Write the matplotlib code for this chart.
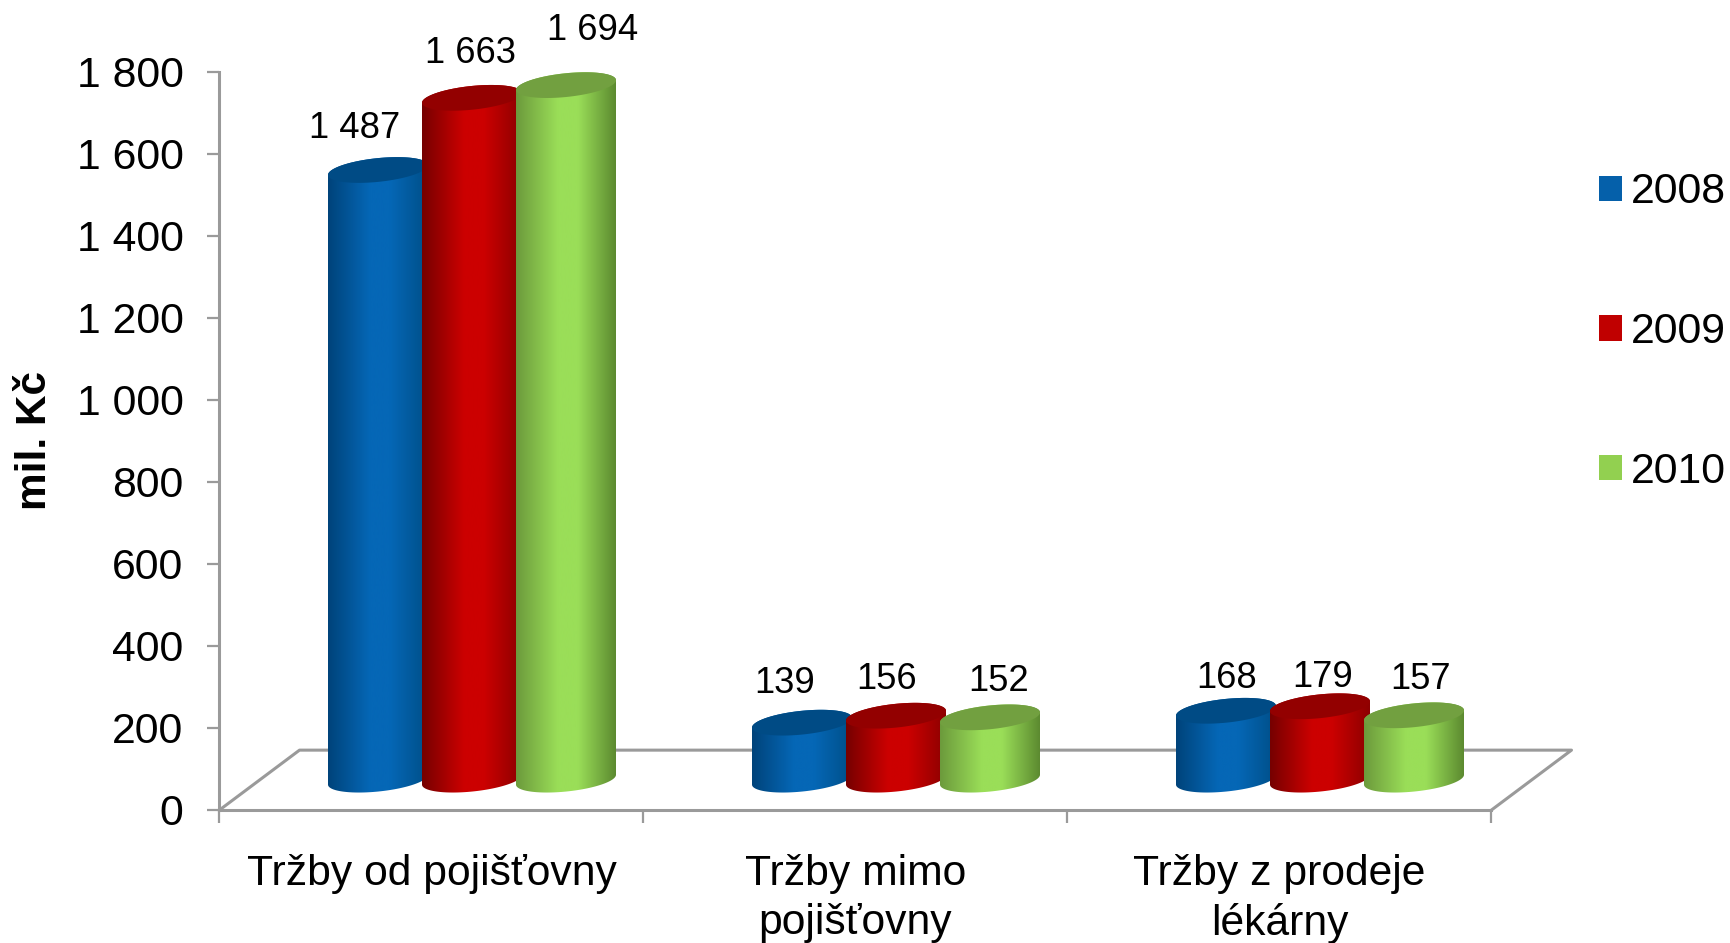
import numpy as np
import matplotlib
matplotlib.use("Agg")
from matplotlib import pyplot as plt
from matplotlib.colors import LinearSegmentedColormap
from matplotlib.patches import Patch, Polygon
from matplotlib.transforms import ScaledTranslation

plt.rcParams['font.family'] = ['Liberation Sans', 'DejaVu Sans']

# data
categories = ["Tržby od pojišťovny", "Tržby mimo\npojišťovny", "Tržby z prodeje\nlékárny"]
years = ["2008", "2009", "2010"]
trzby_2008 = [1487, 139, 168]
trzby_2009 = [1663, 156, 179]
trzby_2010 = [1694, 152, 157]
labels_2008 = ["1 487", "139", "168"]
labels_2009 = ["1 663", "156", "179"]
labels_2010 = ["1 694", "152", "157"]
y_ticks = [0, 200, 400, 600, 800, 1000, 1200, 1400, 1600, 1800]
y_tick_labels = ["0", "200", "400", "600", "800", "1 000", "1 200", "1 400", "1 600", "1 800"]

# colours: left edge, middle, right edge, top of the cylinder, legend
style_2008 = ["#00437a", "#0567b6", "#004f88", "#004b85", "#0560aa"]
style_2009 = ["#760000", "#cc0000", "#8c0000", "#930000", "#c00000"]
style_2010 = ["#6c9a3c", "#9ade58", "#5c8a30", "#72a040", "#92d050"]
AXIS_COLOR = "#9a9a9a"

# label shifts from the top of each bar, in pixels
shift_2008 = [(-23, 41), (-17, 39), (1, 32)]
shift_2009 = [(-1, 44), (-9, 36), (3, 29)]
shift_2010 = [(27, 55), (9, 36), (7, 36)]

W, H = 1731, 943
fig = plt.figure(figsize=(W / 100, H / 100), dpi=100)
ax = fig.add_axes([219.5 / W, 1 - 810 / H, 1272 / W, 738 / H])

# 1 category = 424 px, 1 mil. Kč = 0.41 px
PITCH = 94 / 424
HALF_W = 50 / 424
SHIFT_X = 40.5 / 424
BASE_Y = 74
ELL_B = 29
ELL_K = 12
DEPTH_X = 80 / 424
DEPTH_Y = 146


def cylinder(x, value, colors):
  t_low = np.linspace(np.pi, 2 * np.pi, 80)
  t_up = np.linspace(0, np.pi, 80)
  top = BASE_Y + value
  xs = np.r_[x + HALF_W * np.cos(t_low), x + HALF_W * np.cos(t_up)]
  ys = np.r_[BASE_Y + ELL_B * np.sin(t_low) + ELL_K * np.cos(t_low),
             top + ELL_B * np.sin(t_up) + ELL_K * np.cos(t_up)]
  body = Polygon(np.c_[xs, ys], closed=True, facecolor="none", edgecolor="none", zorder=3)
  ax.add_patch(body)

  cmap = LinearSegmentedColormap.from_list("c", [(0, colors[0]), (0.42, colors[1]), (0.62, colors[1]), (1, colors[2])])
  im = ax.imshow(np.linspace(0, 1, 256).reshape(1, -1), cmap=cmap, aspect="auto",
                 extent=[x - HALF_W, x + HALF_W, BASE_Y - 60, top + 60], zorder=3)
  im.set_clip_path(body)

  t = np.linspace(0, 2 * np.pi, 160)
  ax.add_patch(Polygon(np.c_[x + HALF_W * np.cos(t), top + ELL_B * np.sin(t) + ELL_K * np.cos(t)],
                       closed=True, facecolor=colors[3], edgecolor="none", zorder=3))


# floor of the 3D chart
ax.plot([0, DEPTH_X, 3 + DEPTH_X, 3], [0, DEPTH_Y, DEPTH_Y, 0], color=AXIS_COLOR, lw=2.2, clip_on=False, zorder=1)

series = [(trzby_2008, labels_2008, shift_2008, style_2008),
          (trzby_2009, labels_2009, shift_2009, style_2009),
          (trzby_2010, labels_2010, shift_2010, style_2010)]

for i in range(3):
  center = i + 0.5 + SHIFT_X
  for j, (values, texts, shifts, colors) in enumerate(series):
    x = center + (j - 1) * PITCH
    cylinder(x, values[i], colors)
    ax.annotate(texts[i], (x, BASE_Y + values[i]), xytext=shifts[i], textcoords="offset pixels",
                ha="center", va="center", fontsize=26.2, color="black", zorder=4)

ax.set_xlim(0, 3)
ax.set_ylim(0, 1800)

# axes
for side in ["top", "right"]:
  ax.spines[side].set_visible(False)
for side in ["left", "bottom"]:
  ax.spines[side].set_color(AXIS_COLOR)
  ax.spines[side].set_linewidth(2.2)

ax.set_yticks(y_ticks)
ax.set_yticklabels(y_tick_labels)
ax.tick_params(axis="y", length=9, width=1.6, color=AXIS_COLOR, pad=17, labelsize=30.8)
for lab in ax.get_yticklabels():
  lab.set_transform(lab.get_transform() + ScaledTranslation(0, 0.6 / 72, fig.dpi_scale_trans))
ax.set_xticks([0, 1, 2, 3])
ax.set_xticklabels([])
ax.set_xticks([0.5, 1.5, 2.5], minor=True)
ax.set_xticklabels(categories, minor=True, fontsize=30.7, linespacing=1.26)
ax.tick_params(axis="x", which="major", length=9, width=1.6, color=AXIS_COLOR)
ax.tick_params(axis="x", which="minor", length=0, pad=32)

fig.text(35 / W, 1 - 441 / H, "mil. Kč", rotation=90, fontsize=30.5, fontweight="bold", ha="center", va="center")

# legend
handles = [Patch(facecolor=s[4], label=y) for s, y in zip([style_2008, style_2009, style_2010], years)]
fig.legend(handles=handles, loc="center left", bbox_to_anchor=(1599 / W, 1 - 332 / H), frameon=False,
           fontsize=30.8, handlelength=0.535, handleheight=0.535, handletextpad=0.2, labelspacing=2.33,
           borderpad=0, borderaxespad=0)

fig.savefig("out.png", dpi=100)
